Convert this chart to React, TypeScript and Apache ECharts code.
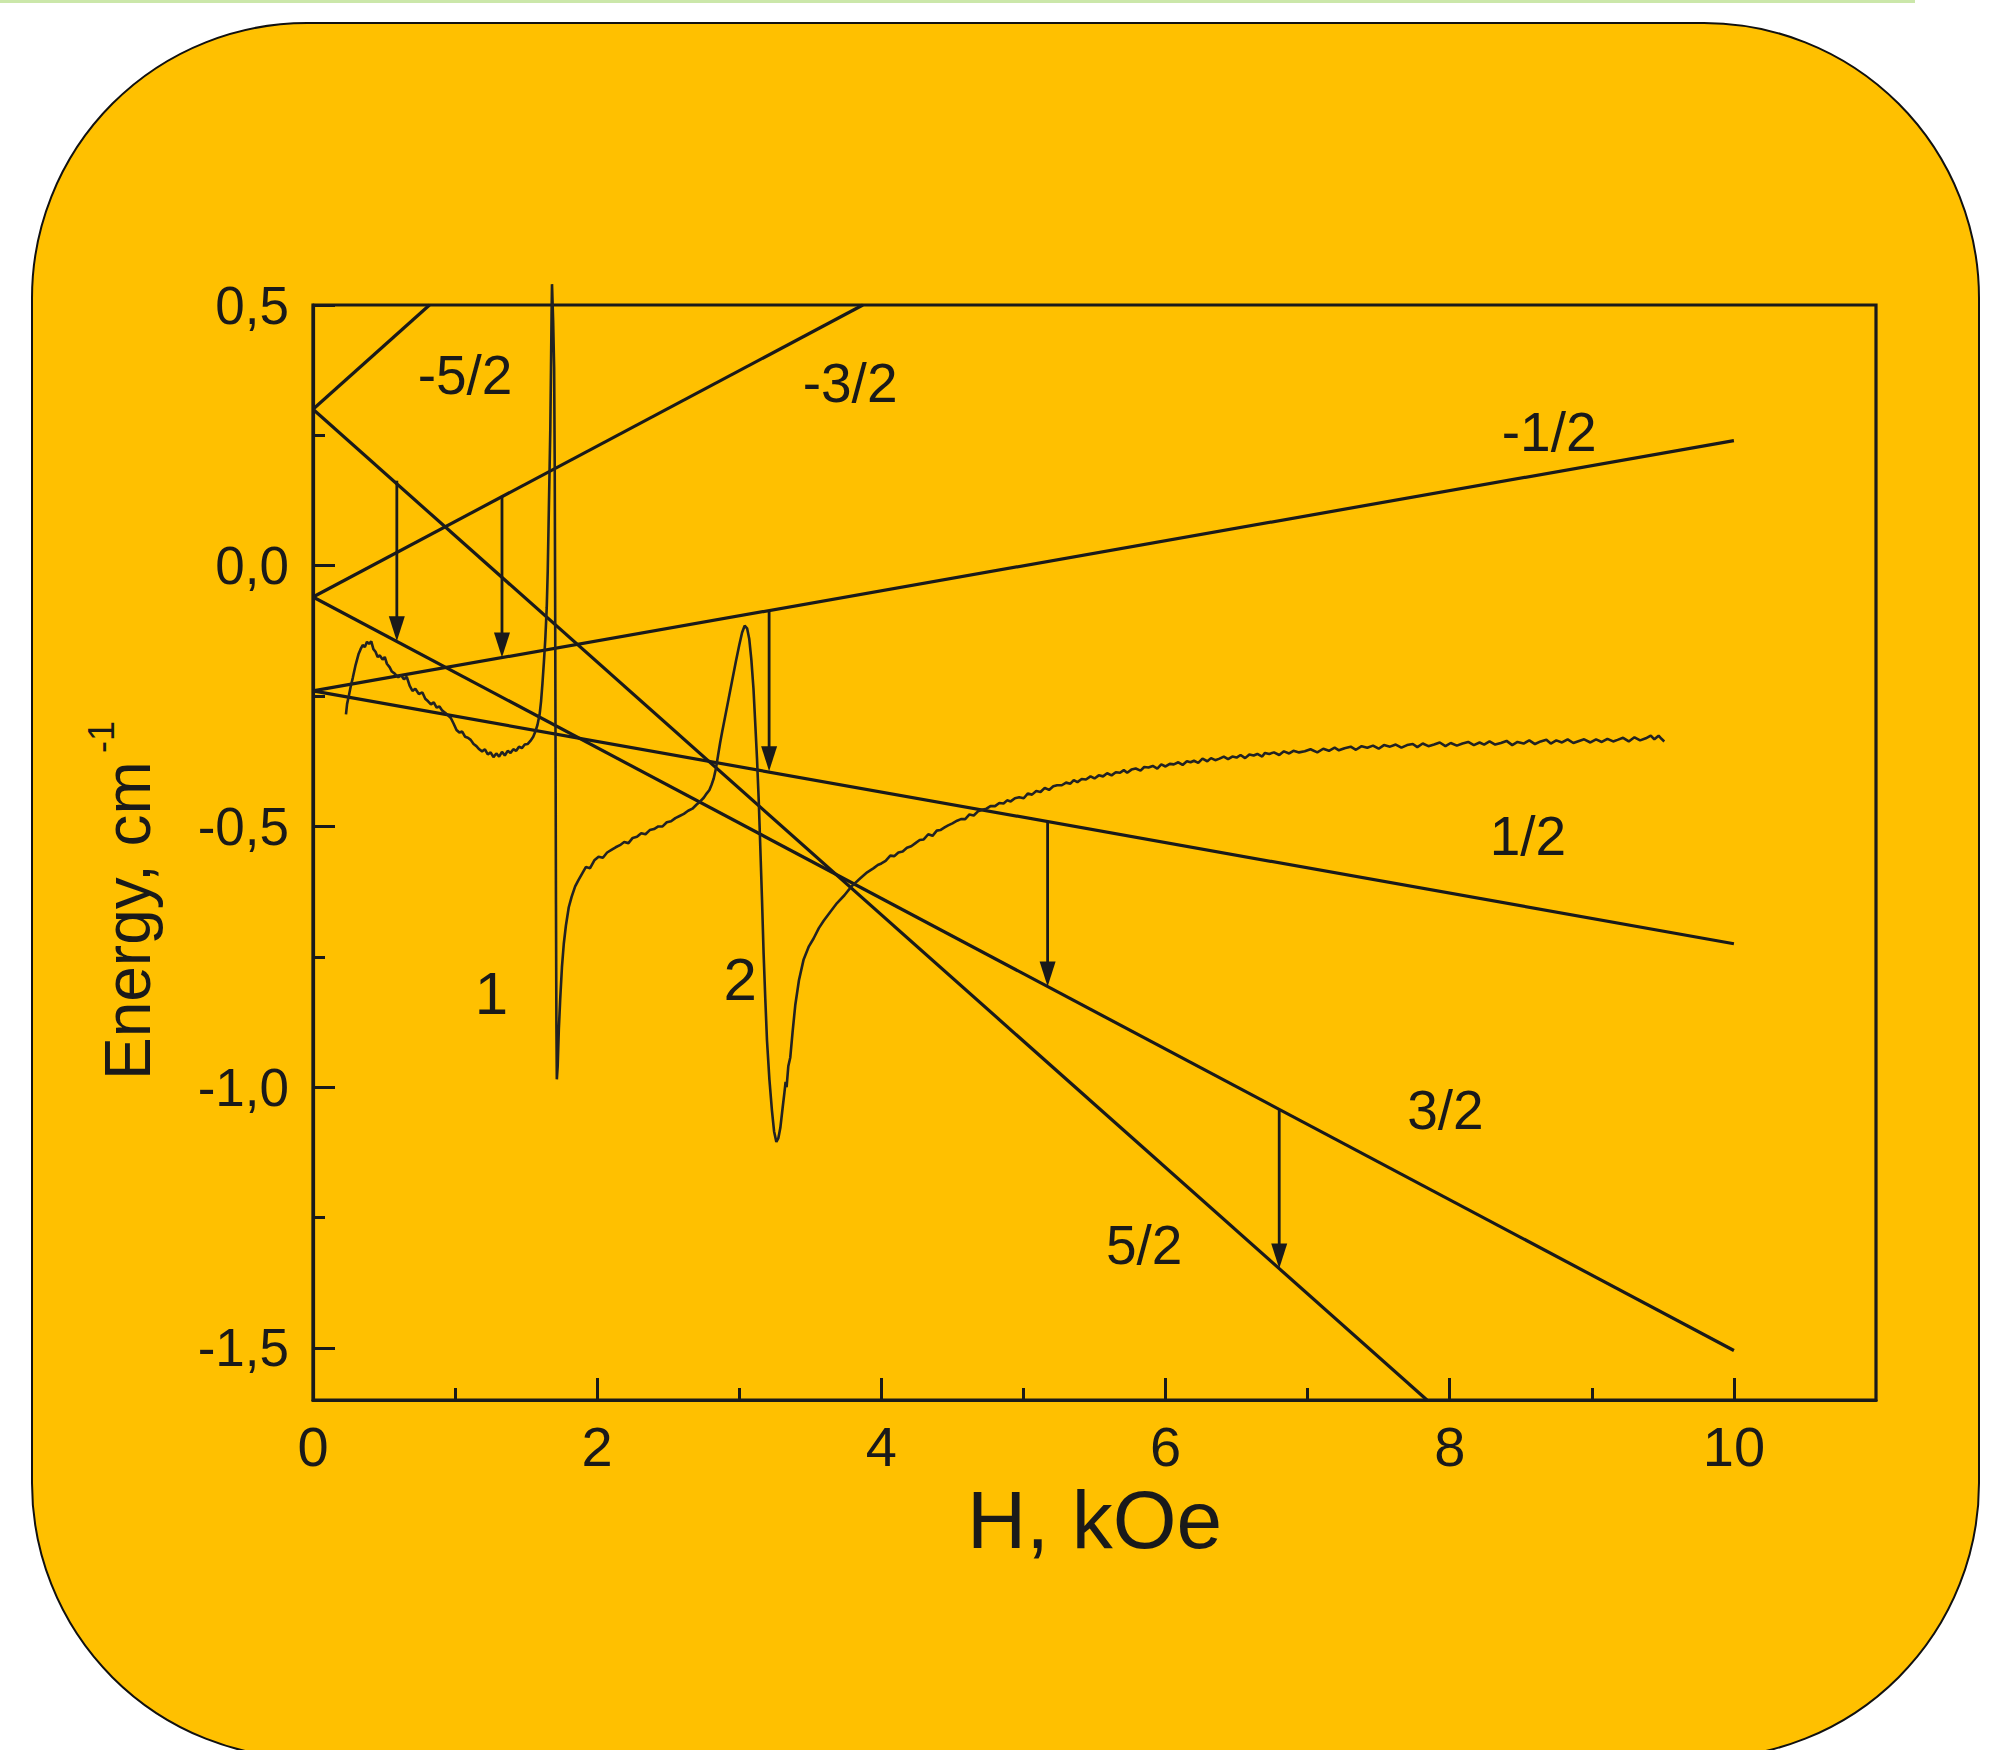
import React, { useEffect, useRef } from "react";
import * as echarts from "echarts";

// ---------- data ----------
const hMajorTicks = [0, 2, 4, 6, 8, 10];
const hMinorTicks = [1, 3, 5, 7, 9];
const eMajorTicks = [-1.5, -1.0, -0.5, 0, 0.5];
const eMinorTicks = [-1.25, -0.75, -0.25, 0.25];

// Zeeman levels: start point (H = 0) and end point
const levelNames = ["-5/2", "-3/2", "-1/2", "1/2", "3/2", "5/2"];
const levelStartE = [0.3, -0.06, -0.24, -0.24, -0.06, 0.3];
const levelEndH = [0.82, 3.87, 10, 10, 10, 7.84];
const levelEndE = [0.5, 0.5, 0.24, -0.725, -1.505, -1.6];

// level label positions
const levelLabelH = [1.07, 3.78, 8.7, 8.55, 7.97, 5.85];
const levelLabelE = [0.366, 0.351, 0.256, -0.518, -1.043, -1.302];

// resonance numbers
const peakNames = ["1", "2"];
const peakLabelH = [1.256, 3.007];
const peakLabelE = [-0.82, -0.793];

// transition arrows
const arrowH = [0.59, 1.33, 3.21, 5.17, 6.8];
const arrowFromE = [0.163, 0.134, -0.086, -0.49, -1.043];
const arrowToE = [-0.145, -0.176, -0.394, -0.807, -1.348];

// experimental EPR trace [H, E]
const curve: [number, number][] = [
  [0.232, -0.285], [0.24, -0.265], [0.252, -0.25], [0.265, -0.232], [0.28, -0.215], [0.3, -0.19], [0.32, -0.17],
  [0.335, -0.16], [0.35, -0.152], [0.365, -0.156], [0.38, -0.146], [0.395, -0.15], [0.41, -0.145], [0.425, -0.16],
  [0.44, -0.165], [0.455, -0.175], [0.47, -0.172], [0.49, -0.18], [0.505, -0.175], [0.52, -0.188], [0.54, -0.195],
  [0.555, -0.203], [0.575, -0.207], [0.6, -0.214], [0.62, -0.21], [0.64, -0.218], [0.66, -0.213], [0.68, -0.23],
  [0.7, -0.24], [0.72, -0.236], [0.745, -0.246], [0.77, -0.243], [0.79, -0.255], [0.81, -0.26], [0.83, -0.266],
  [0.85, -0.262], [0.87, -0.272], [0.89, -0.27], [0.91, -0.278], [0.93, -0.282], [0.95, -0.287], [0.97, -0.292],
  [0.99, -0.303], [1.01, -0.315], [1.03, -0.32], [1.05, -0.318], [1.07, -0.328], [1.09, -0.33], [1.11, -0.334],
  [1.13, -0.342], [1.15, -0.346], [1.17, -0.352], [1.19, -0.356], [1.21, -0.352], [1.23, -0.362], [1.25, -0.358],
  [1.27, -0.367], [1.29, -0.36], [1.31, -0.366], [1.33, -0.357], [1.35, -0.364], [1.37, -0.355], [1.39, -0.359],
  [1.41, -0.352], [1.43, -0.355], [1.45, -0.347], [1.47, -0.35], [1.49, -0.343], [1.51, -0.342], [1.53, -0.336],
  [1.55, -0.328], [1.565, -0.318], [1.58, -0.305], [1.595, -0.285], [1.605, -0.26], [1.615, -0.225], [1.625, -0.185],
  [1.635, -0.14], [1.645, -0.08], [1.652, -0.01], [1.658, 0.08], [1.664, 0.17], [1.67, 0.26], [1.675, 0.38],
  [1.679, 0.48], [1.682, 0.54], [1.69, 0.47], [1.697, 0.38], [1.701, 0.2], [1.704, -0.05], [1.707, -0.35],
  [1.71, -0.65], [1.713, -0.88], [1.716, -0.985], [1.722, -0.96], [1.73, -0.89], [1.74, -0.83], [1.752, -0.77],
  [1.765, -0.725], [1.78, -0.69], [1.8, -0.655], [1.82, -0.635], [1.845, -0.615], [1.87, -0.602], [1.895, -0.59],
  [1.92, -0.578], [1.95, -0.58], [1.98, -0.565], [2.01, -0.558], [2.04, -0.56], [2.07, -0.55], [2.1, -0.545],
  [2.13, -0.54], [2.16, -0.536], [2.19, -0.53], [2.22, -0.532], [2.25, -0.522], [2.28, -0.52], [2.31, -0.513],
  [2.34, -0.515], [2.37, -0.507], [2.4, -0.505], [2.43, -0.5], [2.46, -0.5], [2.49, -0.492], [2.52, -0.49],
  [2.55, -0.484], [2.58, -0.48], [2.61, -0.476], [2.64, -0.47], [2.67, -0.466], [2.7, -0.458], [2.725, -0.452],
  [2.75, -0.445], [2.77, -0.437], [2.79, -0.43], [2.805, -0.42], [2.82, -0.408], [2.835, -0.39], [2.85, -0.365],
  [2.865, -0.34], [2.88, -0.318], [2.9, -0.29], [2.925, -0.255], [2.95, -0.22], [2.975, -0.185], [3.0, -0.152],
  [3.02, -0.128], [3.038, -0.115], [3.055, -0.12], [3.07, -0.14], [3.085, -0.18], [3.1, -0.236], [3.112, -0.3],
  [3.125, -0.371], [3.137, -0.45], [3.148, -0.54], [3.16, -0.64], [3.171, -0.742], [3.183, -0.83], [3.195, -0.91],
  [3.212, -0.985], [3.23, -1.045], [3.245, -1.085], [3.261, -1.105], [3.275, -1.098], [3.289, -1.078],
  [3.305, -1.04], [3.318, -1.01], [3.326, -0.99], [3.333, -1.0], [3.345, -0.96], [3.359, -0.943], [3.375, -0.895],
  [3.394, -0.843], [3.42, -0.795], [3.453, -0.755], [3.49, -0.73], [3.523, -0.715], [3.56, -0.695], [3.594, -0.681],
  [3.64, -0.664], [3.688, -0.647], [3.74, -0.632], [3.79, -0.615], [3.85, -0.6], [3.9, -0.588], [3.946, -0.58],
  [3.975, -0.574], [4.0, -0.571], [4.03, -0.566], [4.063, -0.556], [4.09, -0.557], [4.12, -0.55], [4.15, -0.548],
  [4.18, -0.541], [4.21, -0.538], [4.24, -0.532], [4.27, -0.526], [4.298, -0.525], [4.33, -0.515], [4.36, -0.518],
  [4.39, -0.508], [4.415, -0.507], [4.445, -0.502], [4.47, -0.498], [4.5, -0.494], [4.533, -0.489], [4.56, -0.486],
  [4.59, -0.486], [4.62, -0.477], [4.65, -0.479], [4.68, -0.471], [4.71, -0.468], [4.74, -0.466], [4.768, -0.461],
  [4.8, -0.461], [4.83, -0.455], [4.86, -0.456], [4.885, -0.45], [4.91, -0.452], [4.94, -0.446], [4.97, -0.444],
  [5.002, -0.446], [5.03, -0.437], [5.06, -0.439], [5.09, -0.432], [5.12, -0.434], [5.15, -0.426], [5.18, -0.43],
  [5.21, -0.423], [5.237, -0.421], [5.27, -0.421], [5.3, -0.416], [5.33, -0.418], [5.354, -0.411], [5.38, -0.415],
  [5.41, -0.409], [5.44, -0.41], [5.472, -0.404], [5.5, -0.408], [5.53, -0.402], [5.56, -0.404], [5.589, -0.398],
  [5.62, -0.402], [5.65, -0.396], [5.68, -0.397], [5.706, -0.392], [5.73, -0.397], [5.76, -0.391], [5.79, -0.389],
  [5.824, -0.393], [5.85, -0.386], [5.88, -0.387], [5.91, -0.384], [5.942, -0.389], [5.97, -0.381], [6.0, -0.385],
  [6.03, -0.38], [6.058, -0.381], [6.09, -0.377], [6.12, -0.382], [6.15, -0.375], [6.176, -0.377], [6.2, -0.374],
  [6.23, -0.378], [6.26, -0.37], [6.294, -0.375], [6.32, -0.369], [6.35, -0.373], [6.38, -0.37], [6.41, -0.366],
  [6.44, -0.371], [6.47, -0.366], [6.5, -0.368], [6.528, -0.363], [6.56, -0.369], [6.59, -0.362], [6.62, -0.364],
  [6.646, -0.361], [6.68, -0.366], [6.7, -0.359], [6.73, -0.361], [6.763, -0.358], [6.8, -0.363], [6.833, -0.356],
  [6.87, -0.36], [6.9, -0.355], [6.94, -0.358], [6.98, -0.356], [7.02, -0.352], [7.068, -0.358], [7.11, -0.351],
  [7.15, -0.355], [7.19, -0.349], [7.22, -0.354], [7.26, -0.35], [7.303, -0.347], [7.34, -0.353], [7.38, -0.346],
  [7.42, -0.349], [7.46, -0.345], [7.5, -0.351], [7.537, -0.344], [7.58, -0.347], [7.62, -0.343], [7.66, -0.349],
  [7.7, -0.344], [7.74, -0.342], [7.772, -0.348], [7.81, -0.341], [7.85, -0.346], [7.89, -0.343], [7.93, -0.339],
  [7.97, -0.346], [8.007, -0.34], [8.05, -0.345], [8.09, -0.341], [8.13, -0.338], [8.17, -0.344], [8.21, -0.339],
  [8.242, -0.343], [8.28, -0.337], [8.32, -0.343], [8.36, -0.34], [8.4, -0.336], [8.44, -0.344], [8.477, -0.338],
  [8.52, -0.341], [8.56, -0.335], [8.6, -0.342], [8.64, -0.337], [8.68, -0.334], [8.711, -0.341], [8.75, -0.335],
  [8.79, -0.339], [8.83, -0.333], [8.87, -0.34], [8.91, -0.336], [8.946, -0.333], [8.99, -0.339], [9.03, -0.333],
  [9.07, -0.338], [9.11, -0.332], [9.15, -0.337], [9.181, -0.334], [9.22, -0.33], [9.26, -0.337], [9.3, -0.329],
  [9.34, -0.335], [9.38, -0.331], [9.415, -0.326], [9.44, -0.333], [9.47, -0.326], [9.49, -0.332], [9.51, -0.337],
];

// ---------- styling ----------
const INK = "#1a1a1a";
const FONT = "'Liberation Sans', Arial, sans-serif";
const fmtComma = (v: number) => (Math.abs(v) < 1e-9 ? "0,0" : v.toFixed(1).replace(".", ","));

export default function App() {
  const ref = useRef<HTMLDivElement>(null);

  useEffect(() => {
    if (!ref.current) return;
    const chart = echarts.init(ref.current, undefined, { renderer: "svg" });

    const levelSeries = levelNames.map((name, i) => ({
      name,
      type: "line",
      xAxisIndex: 0,
      yAxisIndex: 0,
      data: [
        [0, levelStartE[i]],
        [levelEndH[i], levelEndE[i]],
      ],
      showSymbol: false,
      symbol: "none",
      lineStyle: { color: INK, width: 3.2 },
      z: 3,
    }));

    const textLabel = (size: number) => ({
      show: true,
      position: "inside",
      formatter: (p: any) => p.data[2],
      fontSize: size,
      fontFamily: FONT,
      color: INK,
      opacity: 1,
    });

    const option: any = {
      animation: false,
      backgroundColor: "#ffffff",
      graphic: [
        {
          type: "rect",
          z: -10,
          shape: { x: 0, y: 0, width: 1915, height: 3 },
          style: { fill: "#cbe7aa" },
        },
        {
          type: "rect",
          z: -10,
          shape: { x: 32, y: 23, width: 1947, height: 1735, r: 275 },
          style: { fill: "#FFC000", stroke: "#111111", lineWidth: 2 },
        },
        {
          type: "group",
          x: 128,
          y: 1080,
          rotation: Math.PI / 2,
          children: [
            {
              type: "text",
              x: 0,
              y: 0,
              style: {
                text: "Energy, cm",
                fontSize: 64,
                fontFamily: FONT,
                fill: INK,
                align: "left",
                verticalAlign: "middle",
              },
            },
            {
              type: "text",
              x: 327,
              y: -27,
              style: {
                text: "-1",
                fontSize: 36,
                fontFamily: FONT,
                fill: INK,
                align: "left",
                verticalAlign: "middle",
              },
            },
          ],
        },
      ],
      grid: {
        left: 313,
        top: 305,
        width: 1563,
        height: 1095,
        show: true,
        borderColor: INK,
        borderWidth: 3.2,
        backgroundColor: "transparent",
      },
      xAxis: [
        {
          type: "value",
          min: 0,
          max: 11,
          position: "bottom",
          axisLine: { show: true, onZero: false, lineStyle: { color: INK, width: 3.2 } },
          axisTick: {
            show: true,
            inside: true,
            length: 22,
            lineStyle: { color: INK, width: 3 },
            customValues: hMajorTicks,
          },
          axisLabel: {
            customValues: hMajorTicks,
            fontSize: 56,
            fontFamily: FONT,
            color: INK,
            margin: 18,
          },
          splitLine: { show: false },
          name: "H, kOe",
          nameLocation: "middle",
          nameGap: 78,
          nameTextStyle: { fontSize: 82, fontFamily: FONT, color: INK },
        },
        {
          type: "value",
          min: 0,
          max: 11,
          position: "bottom",
          axisLine: { show: false, onZero: false },
          axisTick: {
            show: true,
            inside: true,
            length: 12,
            lineStyle: { color: INK, width: 3 },
            customValues: hMinorTicks,
          },
          axisLabel: { show: false },
          splitLine: { show: false },
        },
      ],
      yAxis: [
        {
          type: "value",
          min: -1.6,
          max: 0.5,
          position: "left",
          axisLine: { show: true, onZero: false, lineStyle: { color: INK, width: 3.2 } },
          axisTick: {
            show: true,
            inside: true,
            length: 22,
            lineStyle: { color: INK, width: 3 },
            customValues: eMajorTicks,
          },
          axisLabel: {
            customValues: eMajorTicks,
            formatter: fmtComma,
            fontSize: 53,
            fontFamily: FONT,
            color: INK,
            margin: 24,
          },
          splitLine: { show: false },
        },
        {
          type: "value",
          min: -1.6,
          max: 0.5,
          position: "left",
          axisLine: { show: false, onZero: false },
          axisTick: {
            show: true,
            inside: true,
            length: 12,
            lineStyle: { color: INK, width: 3 },
            customValues: eMinorTicks,
          },
          axisLabel: { show: false },
          splitLine: { show: false },
        },
      ],
      series: [
        ...levelSeries,
        {
          name: "EPR",
          type: "line",
          xAxisIndex: 0,
          yAxisIndex: 0,
          data: curve,
          showSymbol: false,
          symbol: "none",
          clip: false,
          lineStyle: { color: "#222222", width: 2.6 },
          z: 4,
        },
        {
          name: "transitions",
          type: "custom",
          xAxisIndex: 0,
          yAxisIndex: 0,
          encode: { x: 0, y: [1, 2] },
          data: arrowH.map((h, i) => [h, arrowFromE[i], arrowToE[i]]),
          z: 5,
          renderItem: (_params: any, api: any) => {
            const p1 = api.coord([api.value(0), api.value(1)]);
            const p2 = api.coord([api.value(0), api.value(2)]);
            const head = 25;
            const hw = 8;
            return {
              type: "group",
              children: [
                {
                  type: "line",
                  shape: { x1: p1[0], y1: p1[1], x2: p2[0], y2: p2[1] - head + 2 },
                  style: { stroke: INK, lineWidth: 2.8 },
                },
                {
                  type: "polygon",
                  shape: {
                    points: [
                      [p2[0] - hw, p2[1] - head],
                      [p2[0] + hw, p2[1] - head],
                      [p2[0], p2[1]],
                    ],
                  },
                  style: { fill: INK },
                },
              ],
            };
          },
        },
        {
          name: "levelLabels",
          type: "scatter",
          xAxisIndex: 0,
          yAxisIndex: 0,
          symbolSize: 1,
          itemStyle: { color: "rgba(0,0,0,0)" },
          data: levelNames.map((n, i) => [levelLabelH[i], levelLabelE[i], n]),
          label: textLabel(55),
          z: 6,
        },
        {
          name: "peakLabels",
          type: "scatter",
          xAxisIndex: 0,
          yAxisIndex: 0,
          symbolSize: 1,
          itemStyle: { color: "rgba(0,0,0,0)" },
          data: peakNames.map((n, i) => [peakLabelH[i], peakLabelE[i], n]),
          label: textLabel(60),
          z: 6,
        },
      ],
    };

    chart.setOption(option);
    return () => chart.dispose();
  }, []);

  return (
    <div
      ref={ref}
      style={{ position: "absolute", left: 0, top: 0, width: 2001, height: 1750 }}
    />
  );
}
